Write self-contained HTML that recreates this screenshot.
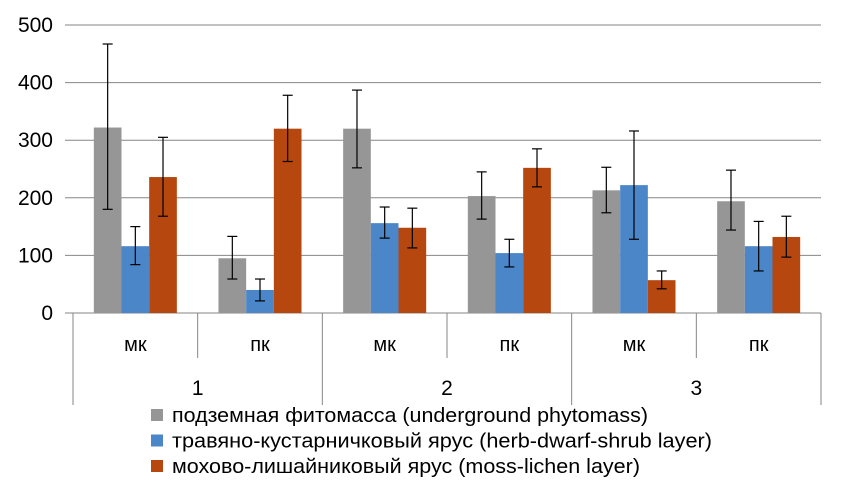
<!DOCTYPE html>
<html><head><meta charset="utf-8"><style>
body{margin:0;background:#fff;}
svg{display:block;font-family:"Liberation Sans","DejaVu Sans",sans-serif;}
</style></head><body>
<svg id="chart" width="846" height="504"></svg>
<script>
const categories=["мк","пк","мк","пк","мк","пк"];
const groups=["1","2","3"];
const seriesNames=["подземная фитомасса (underground phytomass)","травяно-кустарничковый ярус (herb-dwarf-shrub layer)","мохово-лишайниковый ярус (moss-lichen layer)"];
const underground=[322,95,320,203,213,194];
const undergroundLo=[180,59,252,163,174,144];
const undergroundHi=[467,133,387,245,253,248];
const herb=[116,40,156,104,222,116];
const herbLo=[84,21,130,80,128,73];
const herbHi=[150,59,184,128,316,159];
const moss=[236,320,148,252,57,132];
const mossLo=[168,263,113,219,42,97];
const mossHi=[305,378,182,285,73,168];
const yTicks=[0,100,200,300,400,500];

const NS="http://www.w3.org/2000/svg";
const svg=document.getElementById('chart');
const X0=73,X1=821,Y0=313,Ytop=25,YMAX=500;
const cw=(X1-X0)/categories.length;
const y=v=>Y0-(v/YMAX)*(Y0-Ytop);
function mk(tag,attrs,parent){const e=document.createElementNS(NS,tag);for(const k in attrs)e.setAttribute(k,attrs[k]);(parent||svg).appendChild(e);return e;}

yTicks.forEach(t=>{
  const l=mk('line',{x1:X0-8,x2:X1,y1:y(t),y2:y(t),stroke:'#868686','stroke-width':1});
  
  
  const tx=mk('text',{x:53,y:y(t)+7,'text-anchor':'end','font-size':21,fill:'#000'});
  tx.textContent=t;
  
  
});
for(let i=0;i<=categories.length;i++){
  const xx=X0+i*cw;
  const long=i%2===0;
  const l=mk('line',{x1:xx,x2:xx,y1:Y0,y2:long?405:358,stroke:'#868686','stroke-width':1});
  
  
}
const series=[[underground,undergroundLo,undergroundHi,'#969696'],[herb,herbLo,herbHi,'#4a86c8'],[moss,mossLo,mossHi,'#b5470f']];
const bw=cw*0.222;
categories.forEach((c,i)=>{
  const cx=X0+i*cw+cw/2;
  series.forEach((s,j)=>{
    const bx=cx-1.5*bw+j*bw;
    const r=mk('rect',{x:bx,y:y(s[0][i]),width:bw,height:Y0-y(s[0][i]),fill:s[3]});
    
    
    const ex=bx+bw/2;
    const g=mk('g',{stroke:'#000','stroke-width':1.2});
    
    
    mk('line',{x1:ex,x2:ex,y1:y(s[1][i]),y2:y(s[2][i])},g);
    mk('line',{x1:ex-5,x2:ex+5,y1:y(s[1][i]),y2:y(s[1][i])},g);
    mk('line',{x1:ex-5,x2:ex+5,y1:y(s[2][i]),y2:y(s[2][i])},g);
  });
  const t=mk('text',{x:cx,y:351,'text-anchor':'middle','font-size':20,fill:'#000'});
  t.textContent=c;
  
  
});
groups.forEach((g,i)=>{
  const t=mk('text',{x:X0+(2*i+1)*cw,y:395,'text-anchor':'middle','font-size':21,fill:'#000'});
  t.textContent=g;
  
  
});
const legendWidths=[476,540,468];
seriesNames.forEach((n,j)=>{
  const yy=415+j*25.5;
  const r=mk('rect',{x:151,y:yy-6,width:12,height:12,fill:series[j][3]});
  
  
  const t=mk('text',{x:172,y:yy+7,'font-size':20,fill:'#000',textLength:legendWidths[j],lengthAdjust:'spacingAndGlyphs'});
  t.textContent=n;
  
  
});
</script>
</body></html>
